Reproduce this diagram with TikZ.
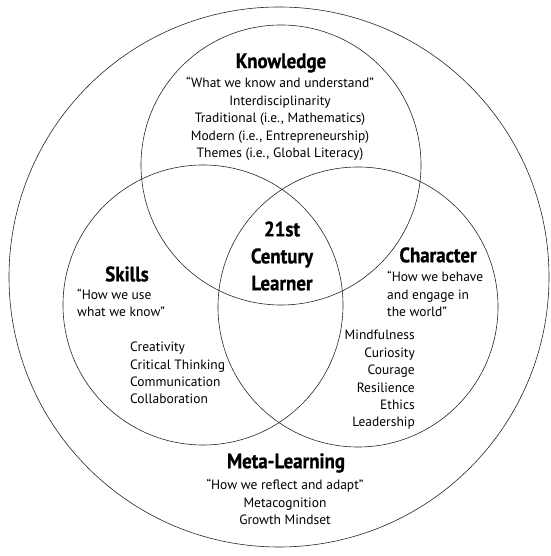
\documentclass[tikz,border=0pt]{standalone}
\usepackage{fontspec}
\setmainfont{PT Sans}
\newfontfamily\headfont[FakeStretch=0.9, BoldFeatures={FakeBold=0.8}]{PT Sans}

\begin{document}
\begin{tikzpicture}[x=1pt, y=1pt, ring/.style={draw=black!85, line width=0.6pt}, heading/.style={font=\headfont\bfseries\fontsize{21}{27}\selectfont, inner sep=0pt, align=center}, blurb/.style={font=\fontsize{13.5}{17.4}\selectfont, inner sep=0pt}]

    \useasboundingbox (0,0) rectangle (550,556);

    \draw[ring] (279,279) circle[radius=270pt];
    \draw[ring] (281,391) circle[radius=140pt];
    \draw[ring] (203,251) circle[radius=140pt];
    \draw[ring] (358,249) circle[radius=140pt];

    \node[heading] (know) at (281,493) {Knowledge};
    \node[blurb, align=center] (knowtext) at (280,437) {“What we know and understand”\\Interdisciplinarity\\Traditional (i.e., Mathematics)\\Modern (i.e., Entrepreneurship)\\Themes (i.e., Global Literacy)};

    \node[heading] (learner) at (282,300) {21st\\Century\\Learner};

    \node[heading] (skills) at (127,282) {Skills};
    \node[blurb, align=left, anchor=west] (skillsquote) at (77,253) {“How we use\\what we know”};
    \node[blurb, align=left, anchor=west] (skillslist) at (130,183) {Creativity\\Critical Thinking\\Communication\\Collaboration};

    \node[heading] (charac) at (438,301) {Character};
    \node[blurb, align=left, anchor=west] (characquote) at (387,262) {“How we behave\\and engage in\\the world”};
    \node[blurb, align=right, anchor=east] (characlist) at (415,176) {Mindfulness\\Curiosity\\Courage\\Resilience\\Ethics\\Leadership};

    \node[heading] (meta) at (286,93) {Meta-Learning};
    \node[blurb, align=center] (metatext) at (285,54) {“How we reflect and adapt”\\Metacognition\\Growth Mindset};

\end{tikzpicture}
\end{document}
